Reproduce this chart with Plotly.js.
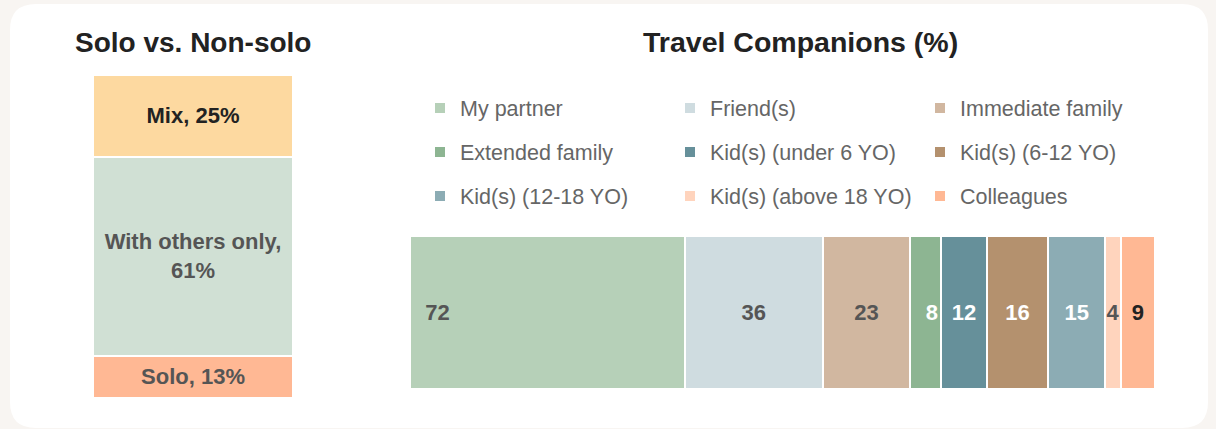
<!DOCTYPE html>
<html>
<head>
<meta charset="utf-8">
<script src="https://cdn.plot.ly/plotly-3.0.1.min.js"></script>
<style>
  html, body { margin: 0; padding: 0; background: #F8F5F2; }
  #chart { width: 1216px; height: 429px; }
</style>
</head>
<body>
<div id="chart"></div>
<script>
// ---- Data: Solo vs. Non-solo (stacked from bottom) ----
const soloLabels = ['Solo', 'With others only', 'Mix'];
const soloValues = [13, 61, 25];
const soloColors = ['#FFB894', '#D0E0D4', '#FDD9A0'];
const soloTextColors = ['#555555', '#555555', '#222222'];

// ---- Data: Travel Companions (%) ----
const compLabels = ['My partner', 'Friend(s)', 'Immediate family',
  'Extended family', 'Kid(s) (under 6 YO)', 'Kid(s) (6-12 YO)',
  'Kid(s) (12-18 YO)', 'Kid(s) (above 18 YO)', 'Colleagues'];
const compValues = [72, 36, 23, 8, 12, 16, 15, 4, 9];
const compColors = ['#B6D0B8', '#CFDCE0', '#D1B7A0', '#8DB592', '#66909A',
  '#B4916E', '#8CACB4', '#FFD4BD', '#FFB894'];
const compTextColors = ['#555555', '#555555', '#555555', '#FFFFFF', '#FFFFFF',
  '#FFFFFF', '#FFFFFF', '#555555', '#222222'];

const SANS = '"Liberation Sans", Arial, sans-serif';

const W = 1216, H = 429;
const px = v => v / W;
const py = v => 1 - v / H;

const traces = [];

soloLabels.forEach((lab, i) => {
  const sep = lab.length > 10 ? ',<br>' : ', ';
  traces.push({
    type: 'bar',
    orientation: 'v',
    x: ['all'],
    y: [soloValues[i]],
    name: lab,
    text: [lab + sep + soloValues[i] + '%'],
    textposition: 'inside',
    insidetextanchor: 'middle',
    textangle: 0,
    constraintext: 'none',
    textfont: { family: SANS, size: 22, weight: 'bold', color: soloTextColors[i] },
    marker: { color: soloColors[i], line: { color: '#FFFFFF', width: 2 } },
    xaxis: 'x', yaxis: 'y',
    showlegend: false,
    hoverinfo: 'skip'
  });
});

compLabels.forEach((lab, i) => {
  let anchor = 'middle';
  let txt = String(compValues[i]);
  if (i === 0) { anchor = 'start'; txt = '\u00a0\u00a0' + txt; }
  if (i === 3) { anchor = 'end'; }
  traces.push({
    type: 'bar',
    orientation: 'h',
    y: ['all'],
    x: [compValues[i]],
    name: lab,
    text: [txt],
    textposition: 'inside',
    insidetextanchor: anchor,
    textangle: 0,
    constraintext: 'none',
    cliponaxis: false,
    textfont: { family: SANS, size: 22, weight: 'bold', color: compTextColors[i] },
    marker: { color: compColors[i], line: { color: '#FFFFFF', width: 2 } },
    xaxis: 'x2', yaxis: 'y2',
    legend: i < 3 ? 'legend' : (i < 6 ? 'legend2' : 'legend3'),
    hoverinfo: 'skip'
  });
});

// rounded card
const cx0 = px(10), cx1 = px(1208), cy0 = py(4), cy1 = py(428);
const rx = px(26), ry = 26 / H;
const cardPath = `M ${cx0 + rx},${cy0} L ${cx1 - rx},${cy0} Q ${cx1},${cy0} ${cx1},${cy0 - ry} ` +
  `L ${cx1},${cy1 + ry} Q ${cx1},${cy1} ${cx1 - rx},${cy1} L ${cx0 + rx},${cy1} ` +
  `Q ${cx0},${cy1} ${cx0},${cy1 + ry} L ${cx0},${cy0 - ry} Q ${cx0},${cy0} ${cx0 + rx},${cy0} Z`;

const legendBase = {
  orientation: 'h',
  xanchor: 'left', yanchor: 'middle',
  x: px(420),
  entrywidth: 205, entrywidthmode: 'pixels',
  font: { family: SANS, size: 21.5, color: '#666666' },
  bgcolor: 'rgba(0,0,0,0)',
  borderwidth: 0,
  itemclick: false, itemdoubleclick: false,
  traceorder: 'normal'
};

const layout = {
  width: W, height: H,
  margin: { l: 0, r: 0, t: 0, b: 0, pad: 0, autoexpand: false },
  paper_bgcolor: '#F8F5F2',
  plot_bgcolor: 'rgba(0,0,0,0)',
  barmode: 'stack',
  bargap: 0,
  showlegend: true,
  xaxis: { domain: [px(93), px(293)], range: [-0.5, 0.5], visible: false, fixedrange: true },
  yaxis: { domain: [py(398), py(75)], range: [0, 99], visible: false, fixedrange: true },
  xaxis2: { domain: [px(410), px(1155)], range: [0, 195], visible: false, fixedrange: true, anchor: 'y2' },
  yaxis2: { domain: [py(389), py(236)], range: [-0.5, 0.5], visible: false, fixedrange: true, anchor: 'x2' },
  legend: Object.assign({}, legendBase, { y: py(108) }),
  legend2: Object.assign({}, legendBase, { y: py(152) }),
  legend3: Object.assign({}, legendBase, { y: py(196) }),
  shapes: [{
    type: 'path', xref: 'paper', yref: 'paper', path: cardPath,
    fillcolor: '#FFFFFF', line: { width: 0 }, layer: 'below'
  }],
  annotations: [
    { text: 'Solo vs. Non-solo', xref: 'paper', yref: 'paper', x: px(193), y: py(42),
      xanchor: 'center', yanchor: 'middle', showarrow: false,
      font: { family: SANS, size: 28, weight: 'bold', color: '#222222' } },
    { text: 'Travel Companions (%)', xref: 'paper', yref: 'paper', x: px(800), y: py(42),
      xanchor: 'center', yanchor: 'middle', showarrow: false,
      font: { family: SANS, size: 28.5, weight: 'bold', color: '#222222' } }
  ],
  hovermode: false
};

Plotly.newPlot('chart', traces, layout, { displayModeBar: false, staticPlot: true });
</script>
</body>
</html>
